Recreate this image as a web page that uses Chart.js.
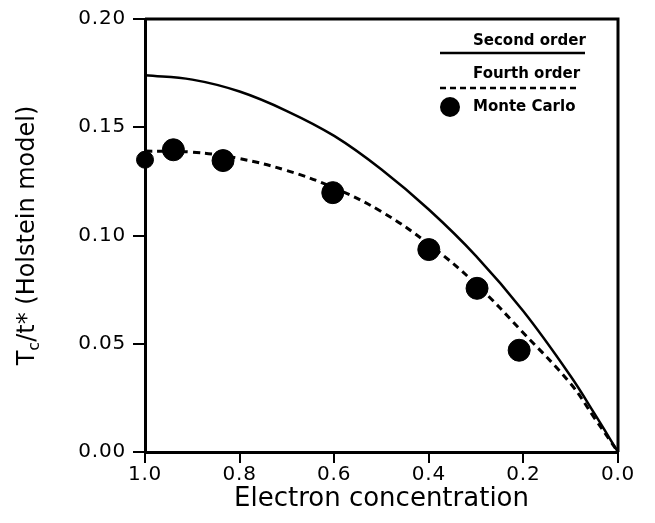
<!DOCTYPE html>
<html>
<head>
<meta charset="utf-8">
<script src="https://cdn.jsdelivr.net/npm/chart.js@4/dist/chart.umd.min.js"></script>
<style>
  html, body { margin: 0; padding: 0; background: #fff; }
  #wrap { width: 655px; height: 523px; }
</style>
</head>
<body>
<div id="wrap"><canvas id="tc-chart" width="655" height="523"></canvas></div>
<script>
// electron concentration grid for the two theory curves
var conc = [1.0, 0.9, 0.8, 0.7, 0.6, 0.5, 0.4, 0.3, 0.2, 0.1, 0.05, 0.0];
var secondOrder = [0.174, 0.172, 0.1665, 0.1575, 0.146, 0.1305, 0.112, 0.0905, 0.065, 0.035, 0.0178, 0.0];
var fourthOrder = [0.139, 0.1385, 0.1355, 0.130, 0.122, 0.111, 0.096, 0.0775, 0.055, 0.0315, 0.0158, 0.0];

// Monte Carlo points
var mcConc = [1.0, 0.94, 0.835, 0.603, 0.40, 0.298, 0.209];
var mcTc = [0.135, 0.1396, 0.1346, 0.1198, 0.0935, 0.0756, 0.047];
var mcSize = [8.5, 11, 11, 11, 11, 11, 11];

var xTicks = [1.0, 0.8, 0.6, 0.4, 0.2, 0.0];
var yTicks = [0.00, 0.05, 0.10, 0.15, 0.20];

function pairs(xs, ys) {
    return xs.map(function(x, i) { return { x: x, y: ys[i] }; });
}

var tickFont = { family: "DejaVu Sans", size: 20 };

// slightly wider tick lettering, like the original typeface
var spacing = {
    id: "spacing",
    beforeDraw: function(chart) { chart.ctx.letterSpacing = "0.8px"; },
    afterDraw: function(chart) { chart.ctx.letterSpacing = "0px"; }
};

// frame, axis titles and legend drawn on top
var decor = {
    id: "decor",
    afterDraw: function(chart) {
        var ctx = chart.ctx;
        var a = chart.chartArea;
        ctx.save();
        ctx.letterSpacing = "0px";
        ctx.strokeStyle = "#000";
        ctx.lineWidth = 3;
        ctx.beginPath();
        ctx.moveTo(a.left, a.top);
        ctx.lineTo(a.right, a.top);
        ctx.lineTo(a.right, a.bottom);
        ctx.stroke();

        ctx.fillStyle = "#000";
        // x title
        ctx.font = "26px DejaVu Sans";
        ctx.textAlign = "center";
        ctx.textBaseline = "middle";
        ctx.fillText("Electron concentration", (a.left + a.right) / 2, 499);

        // y title with subscript c
        ctx.translate(25, (a.top + a.bottom) / 2);
        ctx.rotate(-Math.PI / 2);
        var big = "24px DejaVu Sans", small = "16px DejaVu Sans";
        ctx.font = big;
        var wT = ctx.measureText("T").width;
        var rest = "/t* (Holstein model)";
        var wR = ctx.measureText(rest).width;
        ctx.font = small;
        var wC = ctx.measureText("c").width;
        var x0 = -(wT + wC + wR) / 2;
        ctx.textAlign = "left";
        ctx.textBaseline = "alphabetic";
        ctx.font = big;
        ctx.fillText("T", x0, 9);
        ctx.font = small;
        ctx.fillText("c", x0 + wT, 14);
        ctx.font = big;
        ctx.fillText(rest, x0 + wT + wC, 9);
        ctx.restore();

        // legend
        ctx.save();
        ctx.letterSpacing = "0px";
        ctx.fillStyle = "#000";
        ctx.strokeStyle = "#000";
        ctx.font = "bold 15px DejaVu Sans";
        ctx.textAlign = "left";
        ctx.textBaseline = "middle";
        ctx.fillText("Second order", 473, 41);
        ctx.lineWidth = 2.5;
        ctx.beginPath();
        ctx.moveTo(440, 53);
        ctx.lineTo(585, 53);
        ctx.stroke();
        ctx.fillText("Fourth order", 473, 74);
        ctx.lineWidth = 2.5;
        ctx.setLineDash([6, 4]);
        ctx.beginPath();
        ctx.moveTo(440, 88);
        ctx.lineTo(580, 88);
        ctx.stroke();
        ctx.setLineDash([]);
        ctx.beginPath();
        ctx.arc(450, 107, 10, 0, Math.PI * 2);
        ctx.fill();
        ctx.fillText("Monte Carlo", 473, 107);
        ctx.restore();
    }
};

var ctx = document.getElementById("tc-chart").getContext("2d");
var chart = new Chart(ctx, {
    type: "scatter",
    data: {
        datasets: [
            {
                label: "Second order",
                data: pairs(conc, secondOrder),
                showLine: true,
                borderColor: "#000",
                borderWidth: 2.5,
                pointRadius: 0,
                tension: 0.4,
                fill: false
            },
            {
                label: "Fourth order",
                data: pairs(conc, fourthOrder),
                showLine: true,
                borderColor: "#000",
                borderWidth: 3,
                borderDash: [7, 5],
                pointRadius: 0,
                tension: 0.4,
                fill: false
            },
            {
                label: "Monte Carlo",
                data: pairs(mcConc, mcTc),
                showLine: false,
                backgroundColor: "#000",
                borderColor: "#000",
                pointRadius: mcSize,
                clip: false
            }
        ]
    },
    options: {
        responsive: false,
        animation: false,
        events: [],
        layout: { padding: { left: 0, top: 18, right: 37, bottom: 0 } },
        plugins: {
            legend: { display: false },
            tooltip: { enabled: false },
            title: { display: false }
        },
        scales: {
            x: {
                type: "linear",
                reverse: true,
                min: 0,
                max: 1,
                afterFit: function(s) { s.height = 71; },
                afterBuildTicks: function(s) { s.ticks = xTicks.map(function(v) { return { value: v }; }); },
                ticks: {
                    color: "#000",
                    font: tickFont,
                    padding: 0,
                    maxRotation: 0,
                    callback: function(v) { return v.toFixed(1); }
                },
                grid: { drawOnChartArea: false, drawTicks: true, tickLength: 11, color: "#000", lineWidth: 2 },
                border: { display: true, color: "#000", width: 3 }
            },
            y: {
                type: "linear",
                min: 0,
                max: 0.2,
                afterFit: function(s) { s.width = 145; },
                afterBuildTicks: function(s) { s.ticks = yTicks.map(function(v) { return { value: v }; }); },
                ticks: {
                    color: "#000",
                    font: tickFont,
                    padding: 7,
                    callback: function(v) { return v.toFixed(2); }
                },
                grid: { drawOnChartArea: false, drawTicks: true, tickLength: 12, color: "#000", lineWidth: 2 },
                border: { display: true, color: "#000", width: 3 }
            }
        }
    },
    plugins: [spacing, decor]
});
</script>
</body>
</html>
